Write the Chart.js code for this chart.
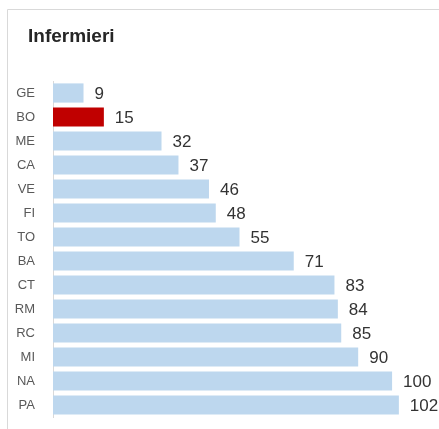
<!DOCTYPE html>
<html>
<head>
<meta charset="utf-8">
<script src="https://cdn.jsdelivr.net/npm/chart.js@4/dist/chart.umd.min.js"></script>
<style>
html,body{margin:0;padding:0;background:#fff;}
#wrap{position:relative;width:439px;height:429px;}
</style>
</head>
<body>
<div id="wrap"><canvas id="c" width="439" height="429"></canvas></div>
<script>
const categories = ["GE","BO","ME","CA","VE","FI","TO","BA","CT","RM","RC","MI","NA","PA"];
const values = [9,15,32,37,46,48,55,71,83,84,85,90,100,102];
const highlight = "BO";
const titleText = "Infermieri";

const barColors = categories.map(c => c === highlight ? "#C00000" : "#BDD7EE");

const frame = {
  id: "frame",
  beforeDraw(chart) {
    const ctx = chart.ctx;
    ctx.save();
    ctx.strokeStyle = "#d9d9d9";
    ctx.lineWidth = 1;
    ctx.beginPath();
    ctx.moveTo(7.5, 429);
    ctx.lineTo(7.5, 9.5);
    ctx.lineTo(439, 9.5);
    ctx.stroke();
    ctx.restore();
  }
};

const shiftTitle = {
  id: "shiftTitle",
  afterLayout(chart) {
    if (chart.titleBlock) {
      chart.titleBlock.left = 28;
    }
  }
};

const valueLabels = {
  id: "valueLabels",
  afterDatasetsDraw(chart) {
    const ctx = chart.ctx;
    const meta = chart.getDatasetMeta(0);
    ctx.save();
    ctx.fillStyle = "#333333";
    ctx.font = "17px 'Liberation Sans', Arial, sans-serif";
    ctx.textAlign = "left";
    ctx.textBaseline = "middle";
    meta.data.forEach((bar, i) => {
      ctx.fillText(String(chart.data.datasets[0].data[i]), bar.x + 11, bar.y + 1);
    });
    ctx.restore();
  }
};

new Chart(document.getElementById("c"), {
  type: "bar",
  data: {
    labels: categories,
    datasets: [{
      data: values,
      backgroundColor: barColors,
      borderWidth: 0,
      barPercentage: 0.8,
      categoryPercentage: 1.0
    }]
  },
  options: {
    indexAxis: "y",
    responsive: false,
    animation: false,
    layout: { padding: { left: 8, right: 13, top: 0, bottom: 12 } },
    plugins: {
      legend: { display: false },
      tooltip: { enabled: false },
      title: {
        display: true,
        text: titleText,
        align: "start",
        color: "#262626",
        font: { family: "'Liberation Sans', Arial, sans-serif", size: 19, weight: "bold", lineHeight: 1.2 },
        padding: { top: 25, bottom: 33.2 }
      }
    },
    scales: {
      x: {
        display: false,
        min: 0,
        max: 110
      },
      y: {
        afterFit(s) { s.width = 45; s.paddingTop = 0; s.paddingBottom = 0; },
        grid: { display: false, drawTicks: false },
        border: { display: true, color: "#d9d9d9", width: 1 },
        ticks: {
          color: "#595959",
          padding: 18,
          font: { family: "'Liberation Sans', Arial, sans-serif", size: 13 }
        }
      }
    }
  },
  plugins: [frame, shiftTitle, valueLabels]
});
</script>
</body>
</html>
